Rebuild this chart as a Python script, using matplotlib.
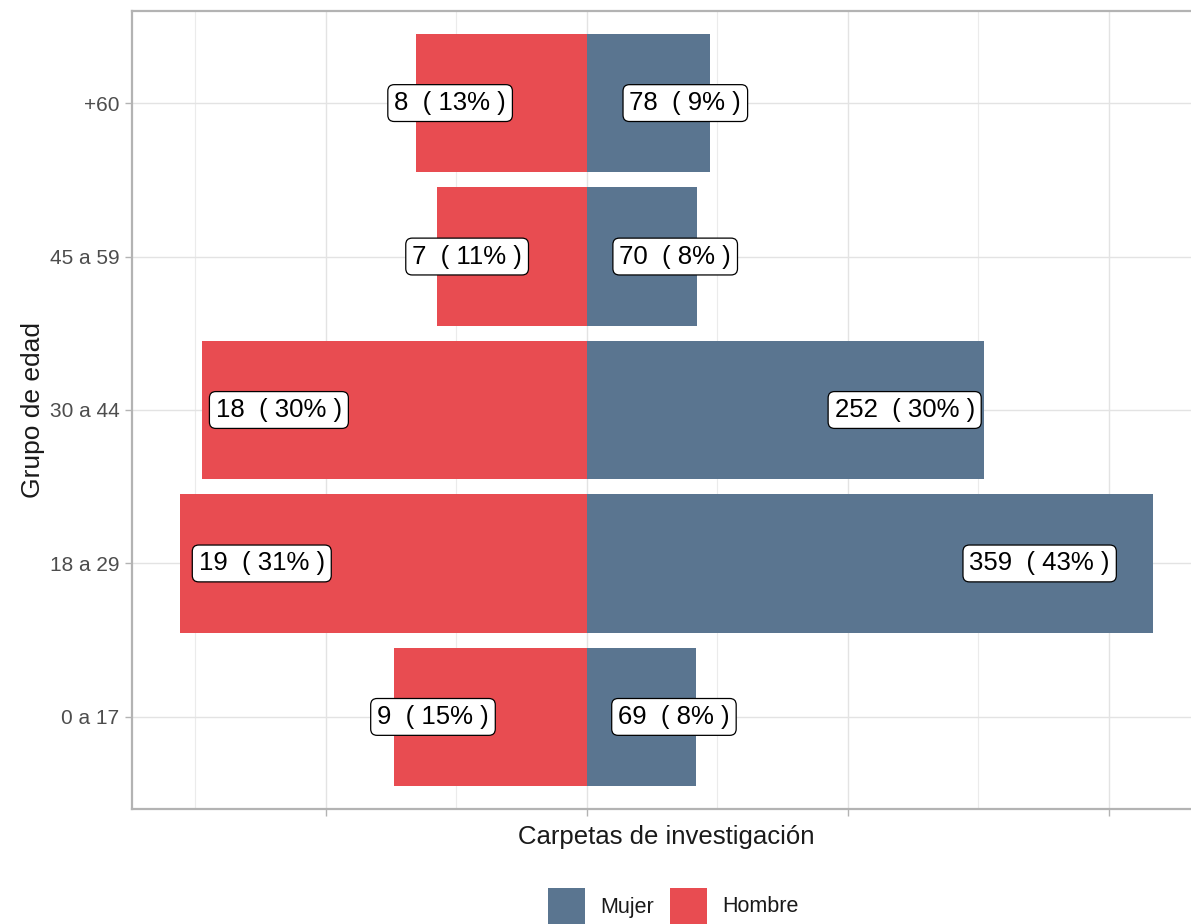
import matplotlib
matplotlib.use("Agg")
import matplotlib.pyplot as plt
from matplotlib.patches import Rectangle
from matplotlib.ticker import FixedLocator, NullFormatter

plt.rcParams['font.family'] = ['Liberation Sans', 'DejaVu Sans']

# ---- data ----
age_groups = ["0 a 17", "18 a 29", "30 a 44", "45 a 59", "+60"]
hombre_n = [9, 19, 18, 7, 8]
mujer_n = [69, 359, 252, 70, 78]
hombre_pct = [14.75, 31.15, 29.51, 11.48, 13.11]
mujer_pct = [8.33, 43.36, 30.43, 8.45, 9.42]
x_major = [-20, 0, 20, 40]
x_minor = [-30, -10, 10, 30]
legend_labels = ["Mujer", "Hombre"]

col_mujer = "#5A7590"
col_hombre = "#E84C51"

W, H = 1191, 924
fig = plt.figure(figsize=(W / 100, H / 100), dpi=100)
left_px, right_px, top_px, bot_px = 131.8, 1201.5, 11, 809
ax = fig.add_axes([left_px / W, 1 - bot_px / H, (right_px - left_px) / W, (bot_px - top_px) / H])

y = list(range(len(age_groups)))
ax.barh(y, [-p for p in hombre_pct], height=0.9, color=col_hombre, zorder=2)
ax.barh(y, mujer_pct, height=0.9, color=col_mujer, zorder=2)

box = dict(boxstyle="round,pad=0.25,rounding_size=0.25", fc="white", ec="black", lw=0.9)
for yi, n, p in zip(y, hombre_n, hombre_pct):
    ax.text(-0.8 * p, yi, f"{n}  ( {round(p)}% )", ha="center", va="center",
            fontsize=18.5, color="black", bbox=box, zorder=4)
for yi, n, p in zip(y, mujer_n, mujer_pct):
    ax.text(0.8 * p, yi, f"{n}  ( {round(p)}% )", ha="center", va="center",
            fontsize=18.5, color="black", bbox=box, zorder=4)

ax.set_xlim(-34.88, 47.09)
ax.set_ylim(-0.6, 4.6)
ax.xaxis.set_major_locator(FixedLocator(x_major))
ax.xaxis.set_minor_locator(FixedLocator(x_minor))
ax.xaxis.set_major_formatter(NullFormatter())
ax.set_yticks(y)
ax.set_yticklabels(age_groups)
ax.tick_params(axis="y", labelsize=15, labelcolor="#4D4D4D", color="#B3B3B3", length=5, width=1, pad=4)
ax.tick_params(axis="x", which="major", color="#B3B3B3", length=5, width=1)
ax.tick_params(axis="x", which="minor", length=0)

ax.grid(True, which="major", color="#E3E3E3", lw=1.0, zorder=0)
ax.grid(True, which="minor", axis="x", color="#EBEBEB", lw=0.8, zorder=0)
ax.set_axisbelow(True)
for s in ax.spines.values():
    s.set_color("#B3B3B3")
    s.set_linewidth(1.6)

ax.set_xlabel("Carpetas de investigación", fontsize=18.5, color="#1A1A1A", labelpad=3)
ax.set_ylabel("Grupo de edad", fontsize=19, color="#1A1A1A", labelpad=3)

# legend (bottom, horizontal)
leg_items = [(legend_labels[0], col_mujer, 548, 600), (legend_labels[1], col_hombre, 670, 722)]
for lab, col, kx, tx in leg_items:
    fig.add_artist(Rectangle((kx / W, 1 - 925 / H), 37 / W, 37 / H,
                             transform=fig.transFigure, facecolor=col, edgecolor="none"))
    fig.text(tx / W, 1 - 907 / H, lab, ha="left", va="center", fontsize=15.5, color="#1A1A1A")

fig.savefig("out.png", dpi=100)
